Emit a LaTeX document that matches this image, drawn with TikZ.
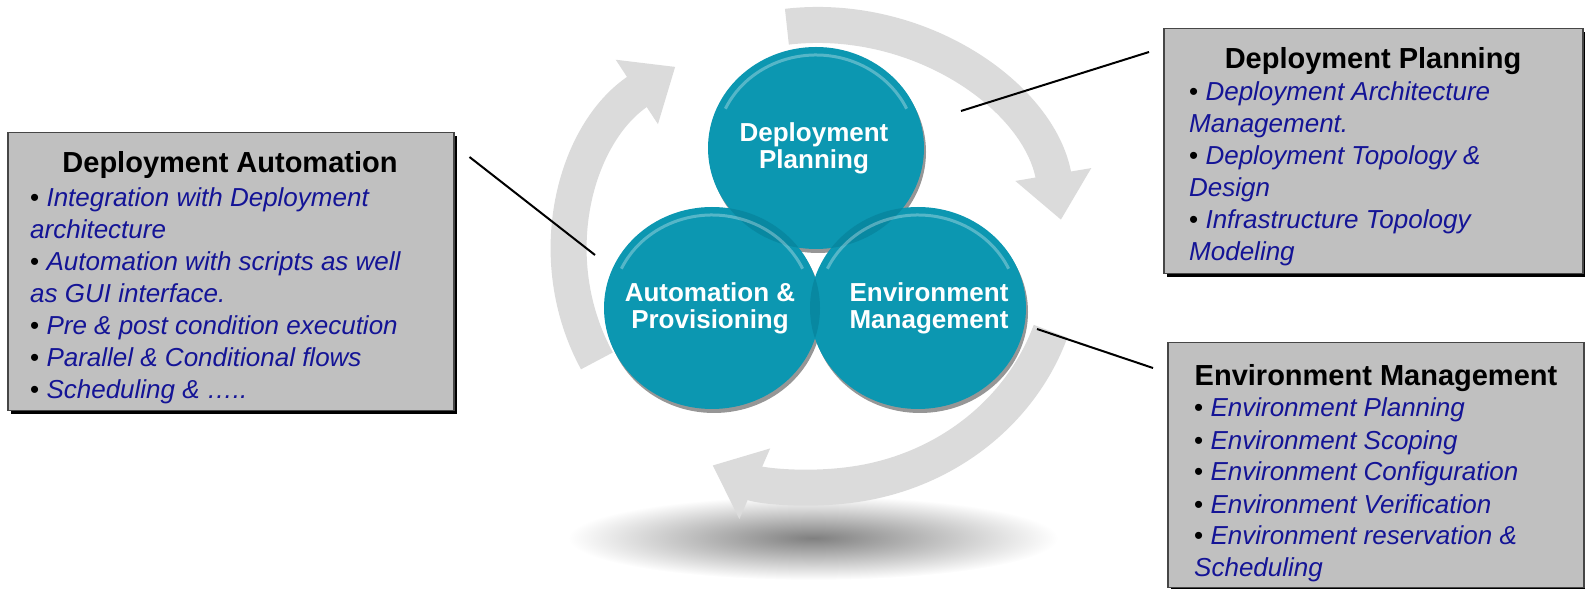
\documentclass[tikz,border=0pt]{standalone}
\usepackage{fontspec}
\setmainfont{Liberation Sans}
\usetikzlibrary{arrows.meta,shadows}

\definecolor{ringgray}{RGB}{219,219,219}
\definecolor{bubbleteal}{RGB}{12,151,177}
\definecolor{overlapteal}{RGB}{8,136,161}
\definecolor{rimgray}{RGB}{150,150,150}
\definecolor{itemblue}{RGB}{20,20,150}
\definecolor{boxgray}{RGB}{192,192,192}
\definecolor{boxedge}{RGB}{70,70,70}

\newcommand{\bul}{{\upshape\color{black}\textbullet}\ }

\tikzset{
	ringarrow/.style={ringgray, line width=36pt, -{Triangle[width=74pt,length=46pt]}},
	bubbletext/.style={font=\fontsize{26}{27}\selectfont\bfseries, text=white, align=center, inner sep=0pt},
	infobox/.style={draw=boxedge, line width=1.5pt, fill=boxgray, inner sep=0pt, anchor=north west,
		drop shadow={shadow xshift=3pt, shadow yshift=-3pt, opacity=1, fill=black}},
	heading/.style={font=\fontsize{29}{34}\selectfont\bfseries, anchor=base, inner sep=0pt},
	% the base of a multi-line node is its last line
	itemlist/.style={font=\fontsize{26}{32}\selectfont\itshape, text=itemblue, align=left, anchor=base west, inner sep=0pt},
	leader/.style={black, line width=2pt}
}

\begin{document}
\begin{tikzpicture}[x=1pt, y=1pt]

	\useasboundingbox (0,0) rectangle (1585,589);

	% Floor shadow
	\shade[inner color=black!50, outer color=white] (813,51) ellipse [x radius=245, y radius=42];

	% Ring of arrows
	\coordinate (ring) at (817,333);
	\draw[ringarrow] ([shift={(97:247 and 231)}]ring) arc [start angle=97, end angle=9, x radius=247, y radius=231];
	\draw[ringarrow] ([shift={(-19:247 and 231)}]ring) arc [start angle=-19, end angle=-115, x radius=247, y radius=231];
	\draw[ringarrow] ([shift={(207:247 and 231)}]ring) arc [start angle=207, end angle=125, x radius=247, y radius=231];

	% Circle centres
	\coordinate (plancenter) at (816,441);
	\coordinate (autocenter) at (712,281);
	\coordinate (envcenter) at (918,281);

	% Rims under the circles
	\foreach \c in {plancenter,autocenter,envcenter}
		\fill[rimgray] ([shift={(2,-4)}]\c) ellipse [x radius=108, y radius=101];

	% Circles
	\foreach \c in {plancenter,autocenter,envcenter}
		\fill[bubbleteal] (\c) ellipse [x radius=108, y radius=101];

	% Overlaps
	\begin{scope}
		\clip (plancenter) ellipse [x radius=108, y radius=101];
		\fill[overlapteal] (autocenter) ellipse [x radius=108, y radius=101];
		\fill[overlapteal] (envcenter) ellipse [x radius=108, y radius=101];
	\end{scope}
	\begin{scope}
		\clip (autocenter) ellipse [x radius=108, y radius=101];
		\fill[overlapteal] (envcenter) ellipse [x radius=108, y radius=101];
	\end{scope}

	% Gloss on top of the circles
	\foreach \c in {plancenter,autocenter,envcenter}
		\draw[white, opacity=.3, line width=3pt] ([shift={(155:100 and 93)}]\c) arc [start angle=155, end angle=25, x radius=100, y radius=93];

	% Circle labels
	\node[bubbletext] (plan) at (814,441) {Deployment\\Planning};
	\node[bubbletext] (auto) at (710,281) {Automation \&\\Provisioning};
	\node[bubbletext] (env) at (929,281) {Environment\\Management};

	% Left box
	\node[infobox, minimum width=446pt, minimum height=278pt] (autobox) at (7,457) {};
	\node[heading] (autohead) at (230,416) {Deployment Automation};
	\node[itemlist] (autoitems) at (30,190) {\bul Integration with Deployment\\architecture\\\bul Automation with scripts as well\\as GUI interface.\\\bul Pre \& post condition execution\\\bul Parallel \& Conditional flows\\\bul Scheduling \& …..};

	% Top right box
	\node[infobox, minimum width=419pt, minimum height=245pt] (planbox) at (1163,561) {};
	\node[heading] (planhead) at (1373,520) {Deployment Planning};
	\node[itemlist] (planitems) at (1189,328) {\bul Deployment Architecture\\Management.\\\bul Deployment Topology \&\\Design\\\bul Infrastructure Topology\\Modeling};

	% Bottom right box
	\node[infobox, minimum width=416pt, minimum height=245pt] (envbox) at (1167,247) {};
	\node[heading] (envhead) at (1376,203) {Environment Management};
	\node[itemlist] (envitems) at (1194,12) {\bul Environment Planning\\\bul Environment Scoping\\\bul Environment Configuration\\\bul Environment Verification\\\bul Environment reservation \&\\Scheduling};

	% Leader lines
	\coordinate (autotip) at (595,334);
	\coordinate (plantip) at (961,478);
	\coordinate (envtip) at (1037,260);
	\draw[leader] ([shift={(15,-25)}]autobox.north east) -- (autotip);
	\draw[leader] (plantip) -- ([shift={(-14,-24)}]planbox.north west);
	\draw[leader] (envtip) -- ([shift={(-14,-26)}]envbox.north west);

\end{tikzpicture}
\end{document}
